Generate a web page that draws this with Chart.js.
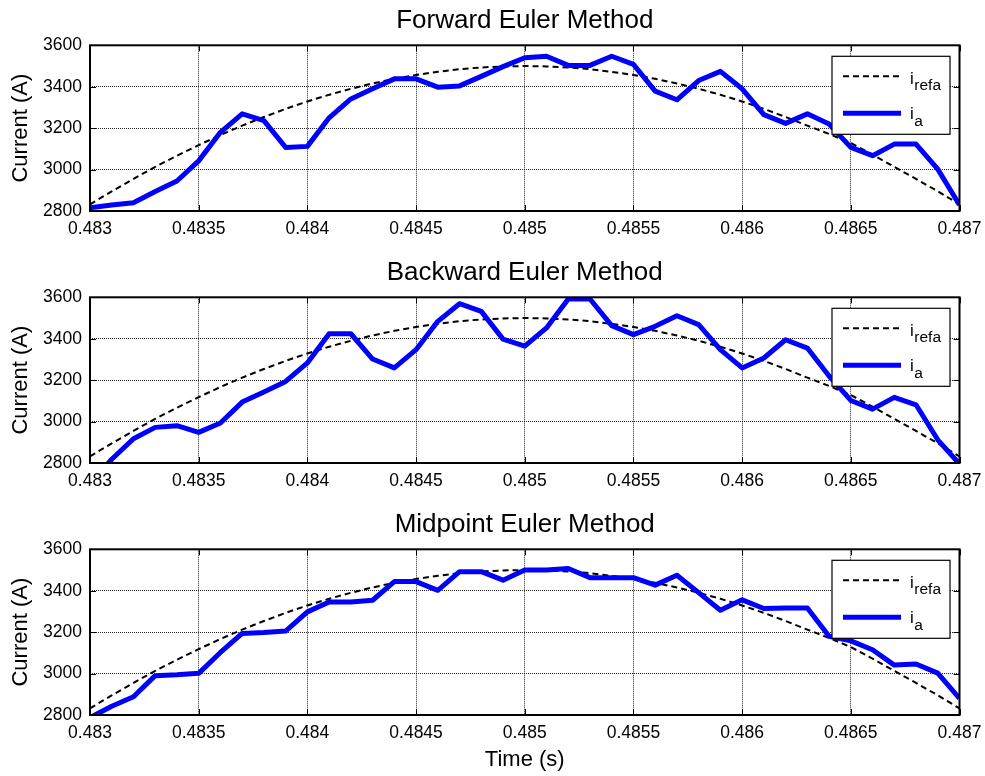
<!DOCTYPE html>
<html>
<head>
<meta charset="utf-8">
<script src="https://cdn.jsdelivr.net/npm/chart.js@4/dist/chart.umd.min.js"></script>
<style>
  html, body { margin: 0; padding: 0; background: #fff; }
  body { width: 985px; height: 776px; position: relative; overflow: hidden; }
  canvas { position: absolute; left: 0; }
</style>
</head>
<body>
<canvas id="c1" width="985" height="252" style="top:0px"></canvas>
<canvas id="c2" width="985" height="252" style="top:252px"></canvas>
<canvas id="c3" width="985" height="272" style="top:504px"></canvas>
<script>
// Sample instants (s)
const time = [
  0.4830, 0.4831, 0.4832, 0.4833, 0.4834, 0.4835, 0.4836, 0.4837, 0.4838, 0.4839,
  0.4840, 0.4841, 0.4842, 0.4843, 0.4844, 0.4845, 0.4846, 0.4847, 0.4848, 0.4849,
  0.4850, 0.4851, 0.4852, 0.4853, 0.4854, 0.4855, 0.4856, 0.4857, 0.4858, 0.4859,
  0.4860, 0.4861, 0.4862, 0.4863, 0.4864, 0.4865, 0.4866, 0.4867, 0.4868, 0.4869,
  0.4870
];

// Reference current i_refa (A)
const iRefa = [
  2832, 2895, 2955, 3013, 3067, 3118, 3167, 3212, 3254, 3293,
  3329, 3361, 3390, 3416, 3438, 3457, 3472, 3485, 3493, 3498,
  3500, 3498, 3493, 3485, 3472, 3457, 3438, 3416, 3390, 3361,
  3329, 3293, 3254, 3212, 3172, 3128, 3072, 3013, 2955, 2895,
  2832
];

// Phase current i_a (A) for each integration scheme
const iaForward = [
  2816, 2829, 2840, 2894, 2945, 3042, 3180, 3269, 3236, 3107,
  3112, 3250, 3341, 3390, 3438, 3438, 3398, 3404, 3450, 3497,
  3540, 3547, 3503, 3503, 3547, 3508, 3379, 3337, 3430, 3474,
  3390, 3265, 3223, 3269, 3220, 3107, 3067, 3123, 3123, 3002,
  2829
];
const iaBackward = [
  2700, 2818, 2917, 2972, 2980, 2948, 2993, 3094, 3143, 3194,
  3283, 3424, 3424, 3302, 3259, 3347, 3484, 3569, 3532, 3398,
  3364, 3452, 3592, 3592, 3463, 3420, 3460, 3511, 3468, 3347,
  3259, 3307, 3395, 3355, 3220, 3102, 3060, 3117, 3081, 2912,
  2795
];
const iaMidpoint = [
  2787, 2842, 2888, 2990, 2994, 3001, 3102, 3194, 3198, 3205,
  3298, 3346, 3346, 3354, 3444, 3444, 3402, 3492, 3492, 3451,
  3500, 3500, 3507, 3463, 3463, 3463, 3427, 3475, 3391, 3306,
  3356, 3314, 3317, 3317, 3180, 3158, 3115, 3041, 3046, 3002,
  2880
];

const xTicks = [0.483, 0.4835, 0.484, 0.4845, 0.485, 0.4855, 0.486, 0.4865, 0.487];
const yTicks = [2800, 3000, 3200, 3400, 3600];
const titles = ['Forward Euler Method', 'Backward Euler Method', 'Midpoint Euler Method'];
const legendEntries = [
  { main: 'i', sub: 'refa' },
  { main: 'i', sub: 'a' }
];

Chart.defaults.font.family = '"Liberation Sans", Arial, Helvetica, sans-serif';
Chart.defaults.color = '#000';

// Axes box with inward tick marks, plus the boxed legend in the top-right corner
const boxPlugin = {
  id: 'axesBox',
  afterDatasetsDraw(chart) {
    const { ctx, chartArea: a, scales: { x, y } } = chart;
    ctx.save();
    ctx.setLineDash([]);
    ctx.strokeStyle = '#000';
    ctx.lineWidth = 1;
    ctx.beginPath();
    xTicks.forEach(v => {
      const px = Math.round(x.getPixelForValue(v)) + 0.5;
      ctx.moveTo(px, a.top); ctx.lineTo(px, a.top + 6);
      ctx.moveTo(px, a.bottom); ctx.lineTo(px, a.bottom - 6);
    });
    yTicks.forEach(v => {
      const py = Math.round(y.getPixelForValue(v)) + 0.5;
      ctx.moveTo(a.left, py); ctx.lineTo(a.left + 6, py);
      ctx.moveTo(a.right, py); ctx.lineTo(a.right - 6, py);
    });
    ctx.stroke();
    ctx.lineWidth = 2;
    ctx.strokeRect(a.left, a.top, a.right - a.left, a.bottom - a.top);

    // legend
    const R = a.right, T = a.top;
    ctx.fillStyle = '#fff';
    ctx.fillRect(R - 127.5, T + 11, 118, 78);
    ctx.lineWidth = 1.2;
    ctx.strokeRect(R - 127.5, T + 11, 118, 78);

    const ds = chart.data.datasets;
    const ref = ds.find(d => d.key === 'ref');
    const cur = ds.find(d => d.key === 'cur');
    const rows = [
      { d: ref, ly: T + 31, base: T + 38.3, subBase: T + 44.3, e: legendEntries[0] },
      { d: cur, ly: T + 68, base: T + 73.3, subBase: T + 81, e: legendEntries[1] }
    ];
    rows.forEach(r => {
      ctx.save();
      ctx.strokeStyle = r.d.borderColor;
      ctx.lineWidth = r.d.borderWidth;
      ctx.setLineDash(r.d.borderDash || []);
      ctx.beginPath();
      ctx.moveTo(R - 116.5, r.ly);
      ctx.lineTo(R - 58.5, r.ly);
      ctx.stroke();
      ctx.restore();
      ctx.fillStyle = '#000';
      ctx.textBaseline = 'alphabetic';
      ctx.textAlign = 'left';
      ctx.font = '17px "Liberation Sans", Arial, sans-serif';
      ctx.fillText(r.e.main, R - 49.5, r.base);
      ctx.font = '15.5px "Liberation Sans", Arial, sans-serif';
      ctx.fillText(r.e.sub, R - 45.2, r.subBase);
    });
    ctx.restore();
  }
};

function makeChart(id, idx, ia) {
  const canvas = document.getElementById(id);
  const H = canvas.height;
  return new Chart(canvas, {
    type: 'line',
    data: {
      datasets: [
        {
          key: 'cur', label: 'i_a',
          data: time.map((t, i) => ({ x: t, y: ia[i] })),
          borderColor: '#0000ff', borderWidth: 5,
          pointRadius: 0, tension: 0, clip: 0, order: 0,
          borderJoinStyle: 'round'
        },
        {
          key: 'ref', label: 'i_refa',
          data: time.map((t, i) => ({ x: t, y: iRefa[i] })),
          borderColor: '#000', borderWidth: 2, borderDash: [6, 4],
          pointRadius: 0, tension: 0, clip: 0, order: 1
        }
      ]
    },
    options: {
      responsive: false,
      animation: false,
      devicePixelRatio: 1,
      layout: { padding: { left: 0, right: 25.5, top: 0, bottom: 0 } },
      plugins: {
        legend: { display: false },
        tooltip: { enabled: false },
        title: {
          display: true, text: titles[idx], fullSize: false,
          font: { size: 26, weight: 'normal' }, color: '#000',
          padding: { top: 5.4, bottom: 8.7 }
        }
      },
      scales: {
        x: {
          type: 'linear', min: 0.483, max: 0.487,
          afterBuildTicks: s => { s.ticks = xTicks.map(v => ({ value: v })); },
          afterFit: s => { s.height = H - 211; s.paddingLeft = 0; s.paddingRight = 0; },
          grid: { color: 'rgba(0,0,0,0.85)', lineWidth: 1, drawTicks: false },
          border: { display: false, dash: [1, 1] },
          ticks: {
            callback: v => String(v), font: { size: 17.5 }, color: '#000',
            padding: 7.5, maxRotation: 0, autoSkip: false
          },
          title: {
            display: idx === 2, text: 'Time (s)', color: '#000',
            font: { size: 22 }, padding: { top: 0, bottom: 3 }
          }
        },
        y: {
          min: 2800, max: 3600,
          afterBuildTicks: s => { s.ticks = yTicks.map(v => ({ value: v })); },
          afterFit: s => { s.width = 90; s.paddingTop = 0; s.paddingBottom = 0; },
          grid: { color: 'rgba(0,0,0,0.85)', lineWidth: 1, drawTicks: false },
          border: { display: false, dash: [1, 1] },
          ticks: { callback: v => String(v), font: { size: 17.5 }, color: '#000', padding: 8 },
          title: {
            display: true, text: 'Current (A)', color: '#000',
            font: { size: 22 }, padding: { top: 8, bottom: 0 }
          }
        }
      }
    },
    plugins: [boxPlugin]
  });
}

makeChart('c1', 0, iaForward);
makeChart('c2', 1, iaBackward);
makeChart('c3', 2, iaMidpoint);
</script>
</body>
</html>
